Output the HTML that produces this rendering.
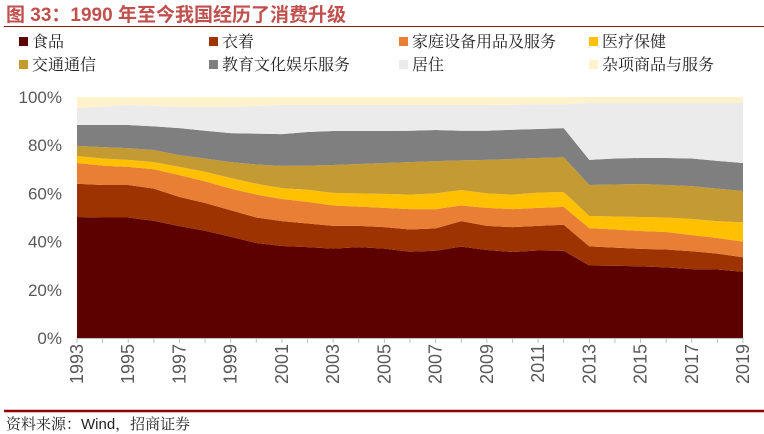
<!DOCTYPE html>
<html><head><meta charset="utf-8"><style>
body{margin:0;width:764px;height:434px;background:#fff;overflow:hidden;font-family:"Liberation Sans","Noto Sans CJK SC",sans-serif;}
svg{display:block}
.serif{font-family:"Liberation Sans","Noto Serif CJK SC",serif;}
</style></head><body>
<svg id="c" width="764" height="434">
<text x="6" y="21" font-size="19" font-weight="bold" fill="#c0504d" font-family="Liberation Sans, Noto Sans CJK SC, sans-serif">图 33：1990 年至今我国经历了消费升级</text>
<line x1="4" y1="26.5" x2="764" y2="26.5" stroke="#8b1a1a" stroke-width="1"/>
<g id="legend"></g>
<g id="plot"></g>
<g id="axes"></g>
<line x1="4" y1="411" x2="764" y2="411" stroke="#8b0000" stroke-width="2.5"/>
<text x="6" y="429" font-size="15" fill="#222" class="serif">资料来源：Wind，招商证券</text>
</svg>
<script>
const years=[1993,1994,1995,1996,1997,1998,1999,2000,2001,2002,2003,2004,2005,2006,2007,2008,2009,2010,2011,2012,2013,2014,2015,2016,2017,2018,2019];
const seriesNames=["食品","衣着","家庭设备用品及服务","医疗保健","交通通信","教育文化娱乐服务","居住","杂项商品与服务"];
const food=[50.2,50.0,50.0,48.6,46.4,44.5,42.0,39.4,38.2,37.7,37.1,37.7,37.1,35.8,36.2,37.9,36.5,35.7,36.3,36.2,30.1,30.0,29.7,29.3,28.6,28.4,27.5];
const clothing=[13.8,13.5,13.5,13.4,12.1,11.5,11,10.6,10.3,9.8,9.4,8.8,8.9,9.2,9.3,10.6,10,10.3,10.2,10.8,7.9,7.5,7.3,7.4,7.4,6.6,6];
const household=[8.6,8,7.5,8,9.1,9,9,9.5,9.2,9,8.5,8,8,8.5,8,6.5,7.5,7.5,7.5,7.4,7.6,7.5,7.4,7.3,6.7,6.5,6.5];
const medical=[2.9,3,2.9,3,3.4,4,4.4,4.5,4.5,5,5.2,5.5,5.8,6,6.5,6.4,6,6,6.3,6.2,5,5.4,5.8,6,6.7,7,8];
const transport=[4.2,4.7,4.9,5,4.9,5.5,6.6,8,9.2,10,11.6,12.2,12.8,13.5,13.4,12.3,13.9,14.8,14.4,14.4,12.9,13.3,13.7,13.5,13.6,13.5,13];
const education=[8.7,9.2,9.6,9.8,11.2,11.5,12,12.8,13.2,14,14.1,13.7,13.3,13,12.9,12.3,12.1,12.1,12,12.1,10.4,10.8,10.8,11.2,11.5,11.5,11.6];
const housing=[7,7.6,8.3,8.5,8.8,9.9,10.9,11.5,12.1,11.2,10.8,10.8,10.8,10.7,10.4,10.7,10.7,10.4,10.3,9.9,23.6,23,22.8,22.8,23,24,24.9];
const misc=[4.6,4,3.3,3.7,4.1,4.1,4.1,3.7,3.3,3.3,3.3,3.3,3.3,3.3,3.3,3.3,3.3,3.2,3,3,2.5,2.5,2.5,2.5,2.5,2.5,2.5];
const yTicks=[0,20,40,60,80,100];
const colors=["#5c0000","#9c3300","#e97e35","#ffc000","#c49a32","#7f7f7f","#ebebeb","#fff2cc"];
const NS="http://www.w3.org/2000/svg";
const X0=77,X1=743,Y0=338,Y1=97;
const xS=i=>X0+(X1-X0)*i/(years.length-1);
const yS=v=>Y0-(Y0-Y1)*v/100;
const all=[food,clothing,household,medical,transport,education,housing,misc];
const plot=document.getElementById('plot');
let base=years.map(()=>0);
all.forEach((s,k)=>{
  const top=base.map((b,i)=>b+s[i]);
  let d="M"+years.map((y,i)=>xS(i)+","+yS(Math.min(100,top[i]))).join(" L");
  for(let i=years.length-1;i>=0;i--) d+=" L"+xS(i)+","+yS(base[i]);
  d+=" Z";
  const p=document.createElementNS(NS,'path');
  p.setAttribute('d',d);p.setAttribute('fill',colors[k]);
  
  
  plot.appendChild(p);
  base=top;
});
const ax=document.getElementById('axes');
const ln=document.createElementNS(NS,'line');
ln.setAttribute('x1',X0);ln.setAttribute('x2',X1);ln.setAttribute('y1',Y0+0.5);ln.setAttribute('y2',Y0+0.5);ln.setAttribute('stroke','#bfbfbf');


ax.appendChild(ln);
yTicks.forEach(v=>{
  const t=document.createElementNS(NS,'text');
  t.setAttribute('x',62);t.setAttribute('y',yS(v)+6);t.setAttribute('text-anchor','end');
  t.setAttribute('font-size','17');t.setAttribute('fill','#595959');t.textContent=v+'%';
  
  
  ax.appendChild(t);
});
years.forEach((y,i)=>{
  const tk=document.createElementNS(NS,'line');
  tk.setAttribute('x1',xS(i));tk.setAttribute('x2',xS(i));tk.setAttribute('y1',Y0);tk.setAttribute('y2',Y0+5);tk.setAttribute('stroke','#bfbfbf');
  
  
  ax.appendChild(tk);
  if(i%2===0){
    const t=document.createElementNS(NS,'text');
    const x=xS(i)+6,yy=344;
    t.setAttribute('x',x);t.setAttribute('y',yy);t.setAttribute('text-anchor','end');
    t.setAttribute('transform','rotate(-90 '+x+' '+yy+')');
    t.setAttribute('font-size','18');t.setAttribute('fill','#595959');t.textContent=y;
    
    
    ax.appendChild(t);
  }
});
const lg=document.getElementById('legend');
seriesNames.forEach((n,k)=>{
  const col=k%4,row=Math.floor(k/4);
  const x=19+col*190,y=37+row*23;
  const r=document.createElementNS(NS,'rect');
  r.setAttribute('x',x);r.setAttribute('y',y);r.setAttribute('width',9);r.setAttribute('height',9);r.setAttribute('fill',colors[k]);
  
  
  lg.appendChild(r);
  const t=document.createElementNS(NS,'text');
  t.setAttribute('x',x+13);t.setAttribute('y',y+10);t.setAttribute('font-size','16');t.setAttribute('fill','#222');t.setAttribute('class','serif');t.textContent=n;
  
  
  lg.appendChild(t);
});
</script>
</body></html>
